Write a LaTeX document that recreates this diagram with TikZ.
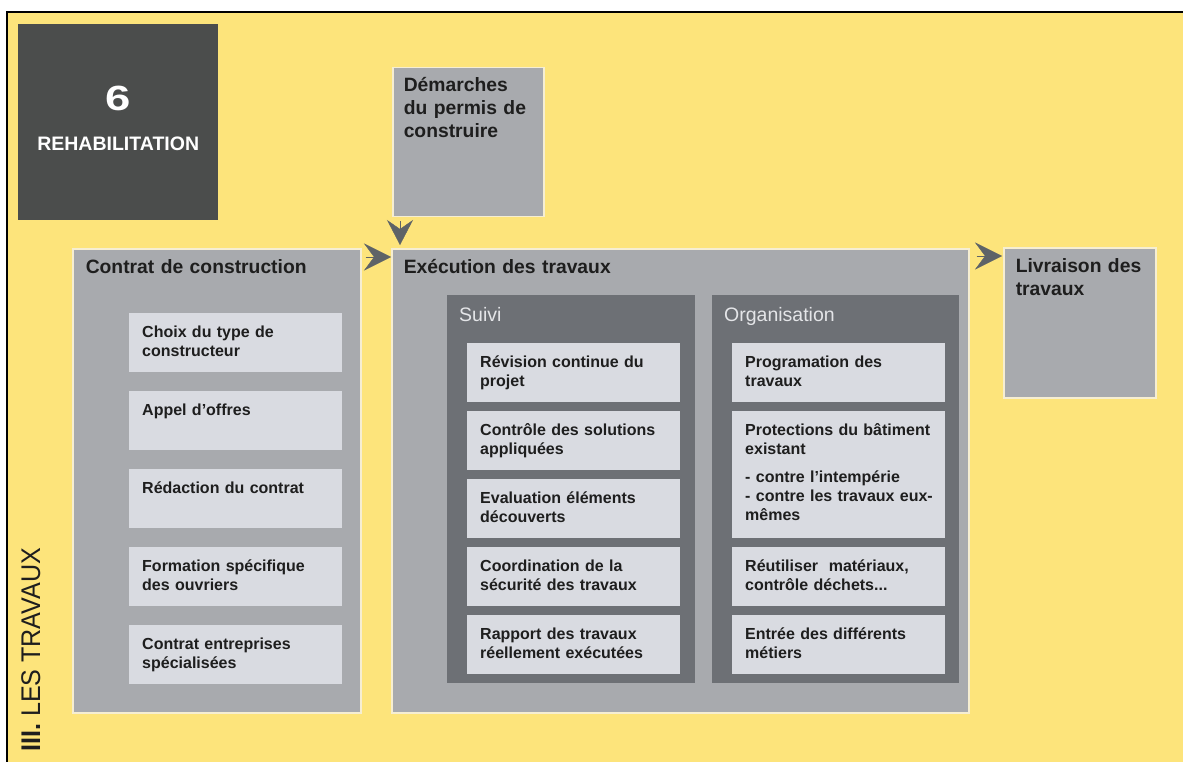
\documentclass[tikz,border=0pt]{standalone}
\usepackage{graphicx}
\usepackage{fontspec}
\setmainfont{Liberation Sans}
\newfontfamily\narrowsans[FakeStretch=0.93]{Liberation Sans}
\usetikzlibrary{arrows.meta}

\definecolor{fond}{HTML}{FDE47B}
\definecolor{sombre}{HTML}{4B4D4C}
\definecolor{grisbloc}{HTML}{A8AAAE}
\definecolor{grisclair}{HTML}{D9DBE1}
\definecolor{grispanneau}{HTML}{6D7075}
\definecolor{bordclair}{HTML}{F6EED2}
\definecolor{fleche}{HTML}{5E6367}
\definecolor{texte}{HTML}{1E1E1E}
\definecolor{titrepanneau}{HTML}{E4E5E8}

\tikzset{
  bloc/.style={anchor=north west, fill=grisbloc, draw=bordclair, line width=1.5pt,
    inner ysep=0pt, align=left, text=texte, font=\fontsize{19.3}{23}\selectfont\bfseries},
  panneau/.style={anchor=north west, fill=grispanneau, inner xsep=12pt, inner ysep=0pt,
    text width=224pt, align=left, text=titrepanneau, font=\fontsize{19.5}{23}\selectfont,
    text height=26pt, text depth=362pt},
  tache/.style={anchor=north west, fill=grisclair, inner xsep=13pt, inner ysep=0pt,
    text width=187pt, align=left, text=texte, font=\fontsize{16}{19}\selectfont\bfseries,
    text height=24pt, text depth=35pt},
  chevron/.style={draw=fleche, line width=0.4pt, -{Stealth[length=27pt, width=27pt, inset=10pt]}}
}

\begin{document}
\begin{tikzpicture}[x=1pt, y=-1pt]
    % 1. Fond jaune et cadre
    \useasboundingbox (0,0) rectangle (1183,762);
    \fill[white] (0,0) rectangle (1183,762);
    \fill[fond] (7,12) rectangle (1183,762);
    \draw[line width=2pt] (7,762) -- (7,12) -- (1183,12);

    % 2. Pavé du chapitre
    \node[anchor=north west, fill=sombre, inner sep=0pt, text width=200pt, align=center,
        text=white, text height=86pt, text depth=110pt,
        font=\fontsize{19.5}{40}\selectfont\bfseries] (numero) at (18,24)
        {{\fontsize{35}{40}\selectfont\scalebox{1.3}[1]{6}}\\REHABILITATION};

    % 3. Titre vertical
    \node[rotate=90, anchor=base west, inner sep=0pt, text=texte,
        font=\narrowsans\fontsize{27}{30}\selectfont] (section) at (40,752)
        {\textbf{III.} LES TRAVAUX};

    % 4. Blocs principaux
    \node[bloc, inner xsep=11pt, text width=129pt, text height=24pt, text depth=125pt]
        (demarches) at (392,67) {Démarches\\du permis de\\construire};
    \node[bloc, inner xsep=13pt, text width=262pt, text height=25pt, text depth=439pt]
        (contrat) at (72,248) {Contrat de construction};
    \node[bloc, inner xsep=12pt, text width=553pt, text height=25pt, text depth=439pt]
        (execution) at (391,248) {Exécution des travaux};
    \node[bloc, inner xsep=12pt, text width=128pt, text height=25pt, text depth=125pt]
        (livraison) at (1003,247) {Livraison des\\travaux};

    % 5. Tâches du contrat
    \node[tache] (choix) at (129,313) {Choix du type de\\constructeur};
    \node[tache] (appel) at (129,391) {Appel d’offres};
    \node[tache] (redaction) at (129,469) {Rédaction du contrat};
    \node[tache] (formation) at (129,547) {Formation spécifique\\des ouvriers};
    \node[tache] (entreprises) at (129,625) {Contrat entreprises\\spécialisées};

    % 6. Panneau Suivi
    \node[panneau] (suivi) at (447,295) {Suivi};
    \node[tache] (revision) at (467,343) {Révision continue du\\projet};
    \node[tache] (controle) at (467,411) {Contrôle des solutions\\appliquées};
    \node[tache] (evaluation) at (467,479) {Evaluation éléments\\découverts};
    \node[tache] (coordination) at (467,547) {Coordination de la\\sécurité des travaux};
    \node[tache] (rapport) at (467,615) {Rapport des travaux\\réellement exécutées};

    % 7. Panneau Organisation
    \node[panneau, text width=223pt] (organisation) at (712,295) {Organisation};
    \node[tache] (programation) at (732,343) {Programation des\\travaux};
    \node[tache, text depth=103pt] (protections) at (732,411)
        {Protections du bâtiment\\existant\\[9pt]- contre l’intempérie\\\mbox{- contre les travaux eux-}\\mêmes};
    \node[tache] (reutiliser) at (732,547) {Réutiliser\ \ matériaux,\\contrôle déchets...};
    \node[tache] (metiers) at (732,615) {Entrée des différents\\métiers};

    % 8. Flèches
    \draw[chevron, shorten <=4pt] ([yshift=-9pt]contrat.north east) -- ([yshift=-9pt]execution.north west);
    \draw[chevron, -{Stealth[length=25pt, width=26pt, inset=9pt]}, shorten <=4pt, shorten >=3pt]
        ([xshift=8pt]demarches.south west) -- ([xshift=9pt]execution.north west);
    \draw[chevron, shorten <=7pt, shorten >=1pt] ([yshift=-8pt]execution.north east) -- ([yshift=-9pt]livraison.north west);
\end{tikzpicture}
\end{document}
